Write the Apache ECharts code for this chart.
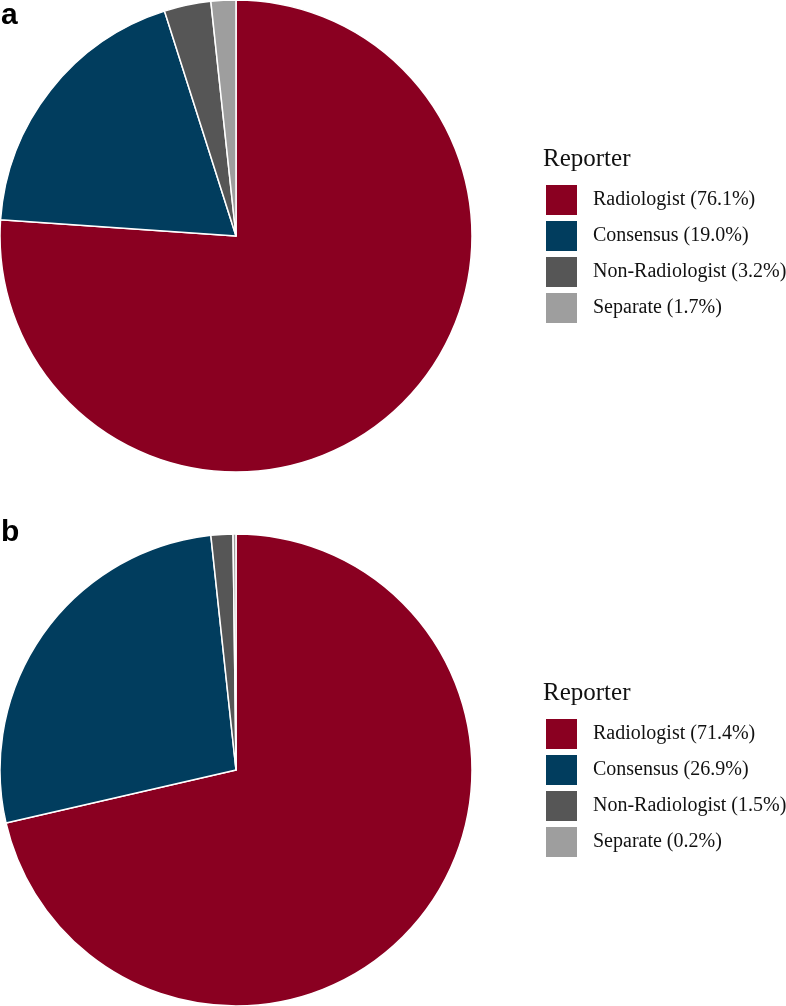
<!DOCTYPE html>
<html>
<head>
<meta charset="utf-8">
<script src="https://cdn.jsdelivr.net/npm/echarts@6/dist/echarts.min.js"></script>
<style>
  html, body { margin: 0; padding: 0; background: #fff; }
  #main { width: 786px; height: 1006px; }
</style>
</head>
<body>
<div id="main"></div>
<script>
// reporter categories and shares (%) for panels a and b
var categories = ['Radiologist', 'Consensus', 'Non-Radiologist', 'Separate'];
var valuesA = [76.1, 19.0, 3.2, 1.7];
var valuesB = [71.4, 26.9, 1.5, 0.2];
var colors = ['#8a0021', '#013d5e', '#565656', '#9e9e9e'];

var myChart = echarts.init(document.getElementById('main'));

function toData(vals) {
    return categories.map(function (c, i) {
        return {name: c, value: vals[i], itemStyle: {color: colors[i]}};
    });
}

function makeLegend(top, vals) {
    return {
        orient: 'vertical',
        left: 546,
        top: top,
        padding: 0,
        icon: 'rect',
        symbolKeepAspect: false,
        itemWidth: 31,
        itemHeight: 30,
        itemGap: 6,
        selectedMode: false,
        itemStyle: {borderWidth: 0},
        data: categories,
        formatter: function (name) {
            var v = vals[categories.indexOf(name)];
            return name + ' (' + v.toFixed(1) + '%)';
        },
        textStyle: {
            fontFamily: 'Liberation Serif',
            fontSize: 20,
            color: '#111',
            padding: [0, 0, 0, 11]
        }
    };
}

var pieStyle = {
    borderColor: '#fff',
    borderWidth: 1.5
};

var letterStyle = {fontFamily: 'Liberation Sans', fontWeight: 'bold', fontSize: 30, color: '#000'};
var headStyle = {fontFamily: 'Liberation Serif', fontWeight: 'normal', fontSize: 25, color: '#111'};

var option = {
    animation: false,
    title: [
        {text: 'a', left: 1, top: 1, padding: 0, textStyle: letterStyle},
        {text: 'b', left: 1, top: 518, padding: 0, textStyle: letterStyle},
        {text: 'Reporter', left: 543, top: 147, padding: 0, textStyle: headStyle},
        {text: 'Reporter', left: 543, top: 681, padding: 0, textStyle: headStyle}
    ],
    legend: [makeLegend(185, valuesA), makeLegend(719, valuesB)],
    series: [
        {
            type: 'pie',
            center: [236, 236],
            radius: 236,
            startAngle: 90,
            clockwise: true,
            label: {show: false},
            labelLine: {show: false},
            itemStyle: pieStyle,
            emphasis: {disabled: true},
            data: toData(valuesA)
        },
        {
            type: 'pie',
            center: [236, 770],
            radius: 236,
            startAngle: 90,
            clockwise: true,
            label: {show: false},
            labelLine: {show: false},
            itemStyle: pieStyle,
            emphasis: {disabled: true},
            data: toData(valuesB)
        }
    ]
};

myChart.setOption(option);
</script>
</body>
</html>
